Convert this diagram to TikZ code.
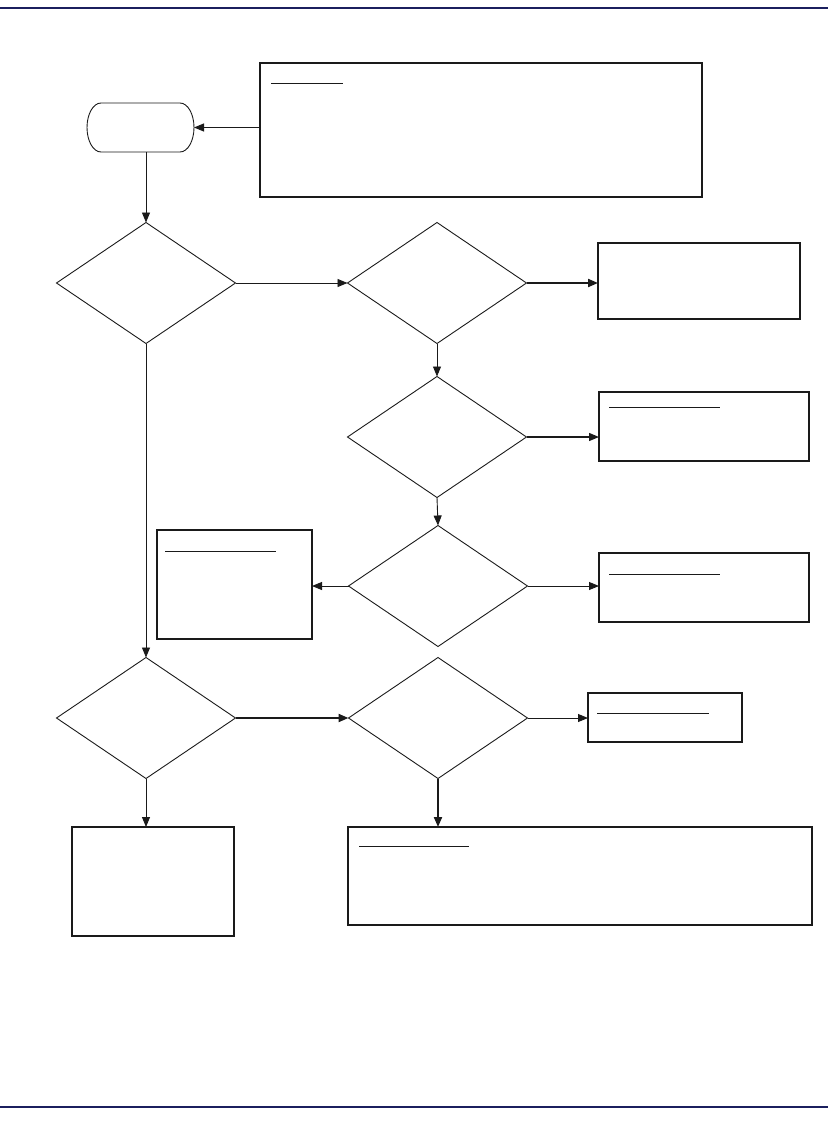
\documentclass[tikz,border=0pt]{standalone}
\usetikzlibrary{shapes.geometric,arrows.meta,calc}
\definecolor{navy}{HTML}{1B1F5E}
\definecolor{ink}{HTML}{1A1A1A}
\begin{document}
\begin{tikzpicture}[x=1pt,y=-1pt,
  every node/.style={inner sep=0pt,outer sep=0pt},
  box/.style={draw=ink,line width=1.1pt,rectangle},
  dia/.style={draw=ink,line width=0.9pt,diamond,minimum width=179pt,minimum height=121pt},
  term/.style={rectangle},
  arr/.style={draw=ink,line width=0.9pt,-{Triangle[length=10pt,width=8pt]}},
  tarr/.style={draw=ink,line width=2pt,-{Triangle[length=10pt,width=8pt]}},
  uline/.style={draw=ink,line width=0.8pt}]
\useasboundingbox (0,0) rectangle (828,1121);
% page rules
\draw[navy,line width=1.2pt] (0,8) -- (828,8);
\draw[navy,line width=1.2pt] (0,1107) -- (828,1107);
% nodes
\node[term,minimum width=107pt,minimum height=49pt] (start) at (140.5,127.5) {};
\draw[ink,line width=0.9pt] ($(start.north west)+(14,0)$) -- ($(start.north east)+(-14,0)$)
  arc[start angle=90,end angle=-90,x radius=14pt,y radius=24.5pt]
  -- ($(start.south west)+(14,0)$)
  arc[start angle=-90,end angle=-270,x radius=14pt,y radius=24.5pt] -- cycle;
\node[box,minimum width=442pt,minimum height=134pt] (note) at (481,130) {};
\node[dia] (d1) at (146,283) {};
\node[dia] (d2) at (437,283) {};
\node[box,line width=2pt,minimum width=202pt,minimum height=76pt] (ba) at (699,281) {};
\node[dia] (d3) at (437,437) {};
\node[box,minimum width=210pt,minimum height=69pt] (bb) at (704,426.5) {};
\node[dia] (d4) at (438,586) {};
\node[box,minimum width=155pt,minimum height=109pt] (bc) at (234.5,584.5) {};
\node[box,minimum width=210pt,minimum height=69pt] (bd) at (704,587.5) {};
\node[dia] (d5) at (146,718) {};
\node[dia] (d6) at (438,718) {};
\node[box,minimum width=154pt,minimum height=49pt] (be) at (665,717.5) {};
\node[box,minimum width=162pt,minimum height=109pt] (bf) at (153,881.5) {};
\node[box,minimum width=464pt,minimum height=98pt] (bg) at (580,876) {};
% thick top edge of box E
\draw[ink,line width=2.2pt] (be.north west) -- (be.north east);
% heading rules inside boxes
\draw[uline] ($(note.north west)+(11,20)$) -- ++(72,0);
\draw[uline] ($(bb.north west)+(10,15)$) -- ++(111,0);
\draw[uline] ($(bc.north west)+(8,21)$) -- ++(111,0);
\draw[uline] ($(bd.north west)+(10,21)$) -- ++(111,0);
\draw[uline] ($(be.north west)+(9,20)$) -- ++(112,0);
\draw[uline] ($(bg.north west)+(11,19)$) -- ++(110,0);
% connectors
\draw[arr] (note.west |- start.east) -- (start.east);
\draw[arr] (start.south -| d1.north) -- (d1.north);
\draw[arr] (d1.east) -- (d2.west);
\draw[tarr] (d2.east) -- (ba.west |- d2.east);
\draw[arr] (d2.south) -- (d3.north);
\draw[arr,line width=1.3pt] (d3.east) -- (bb.west |- d3.east);
\draw[arr] (d3.south) -- (d4.north);
\draw[arr] (d4.west) -- (bc.east |- d4.west);
\draw[arr] (d4.east) -- (bd.west |- d4.east);
\draw[arr] (d1.south) -- (d5.north);
\draw[tarr] (d5.east) -- (d6.west);
\draw[arr] (d6.east) -- (be.west |- d6.east);
\draw[arr] (d5.south) -- (d5.south |- bf.north);
\draw[tarr] (d6.south) -- (d6.south |- bg.north);
\end{tikzpicture}
\end{document}
